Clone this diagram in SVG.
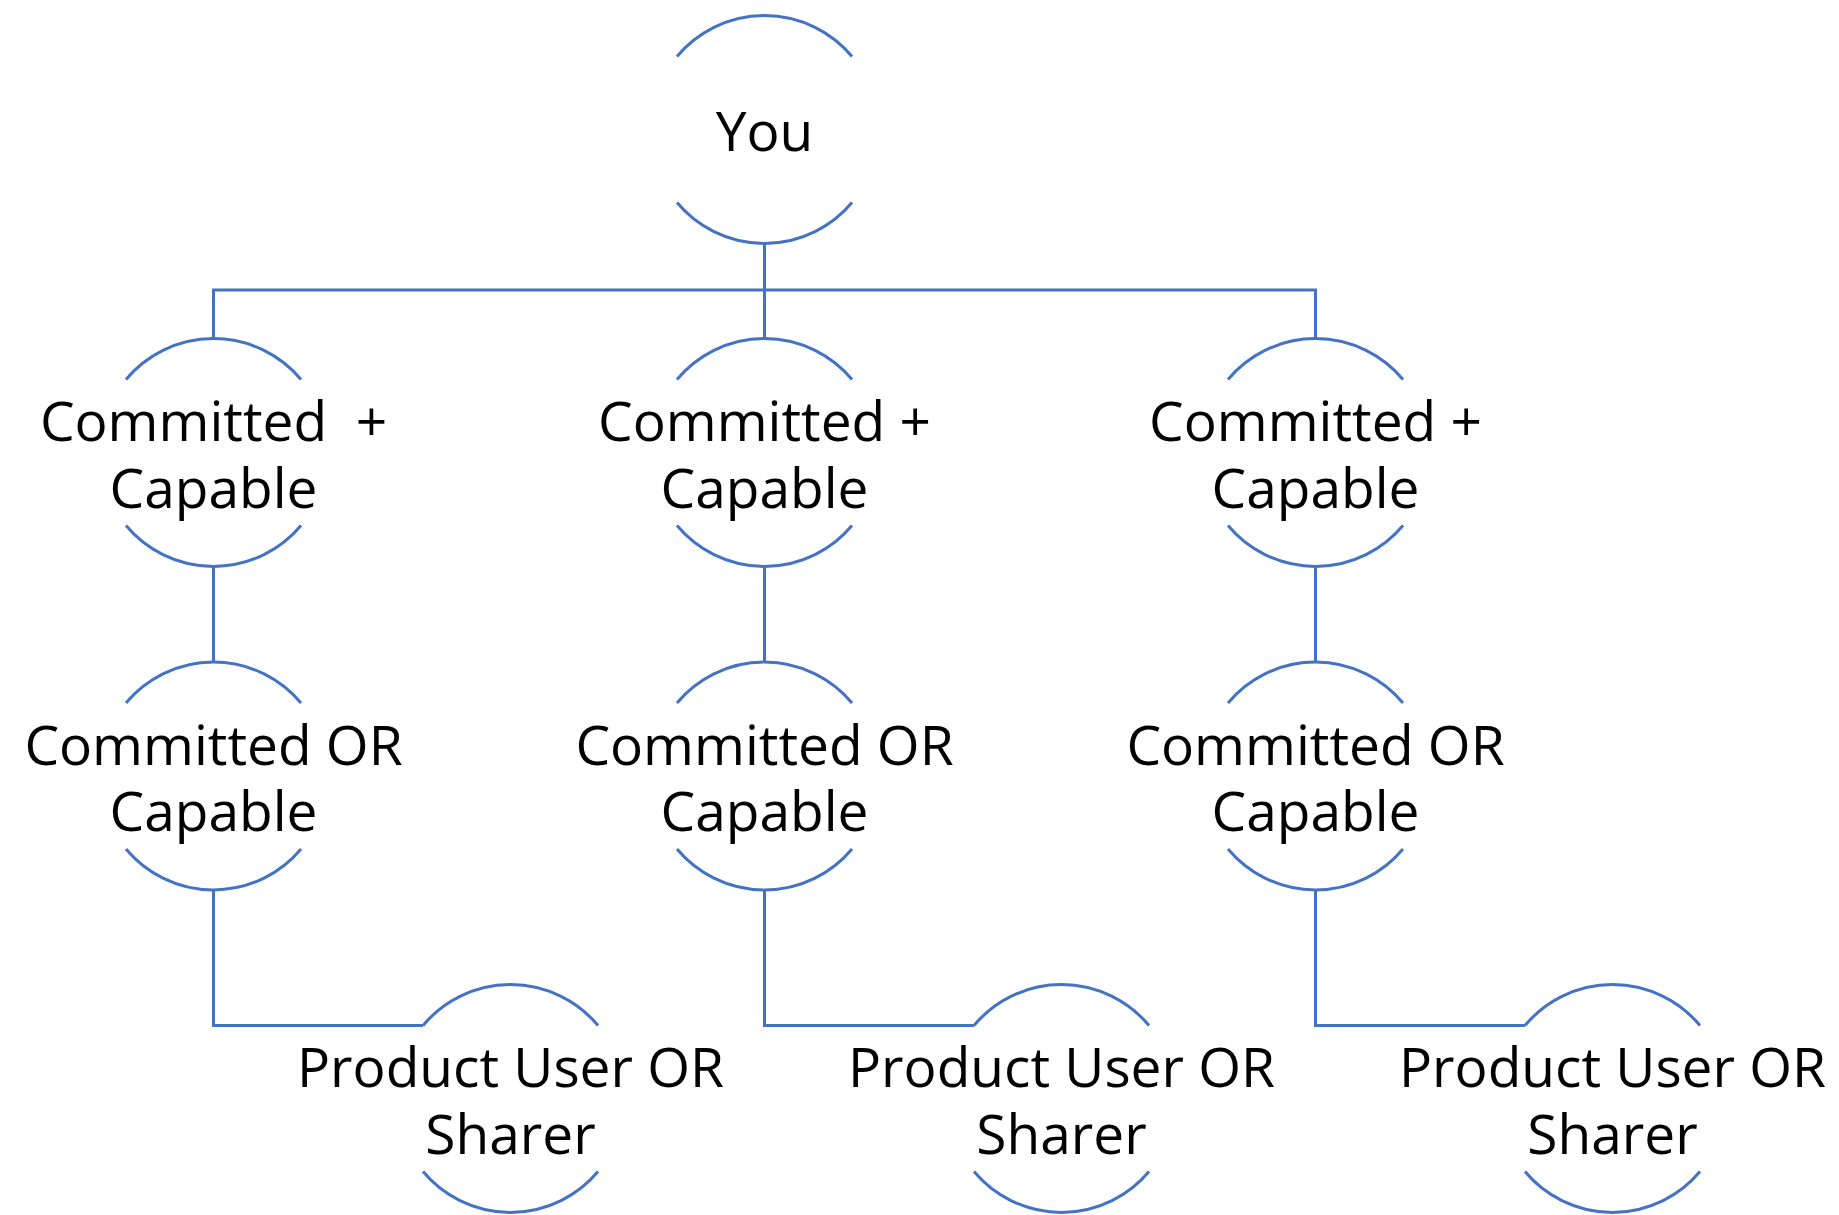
<svg xmlns="http://www.w3.org/2000/svg" width="1839" height="1215" viewBox="0 0 1839 1215">
<style>
.arc{fill:none;stroke:#4472C4;stroke-width:3}
.con{fill:none;stroke:#4472C4;stroke-width:3}
.lbl{font-family:"Open Sans","Noto Sans","Liberation Sans",sans-serif;font-size:55px;fill:#000;text-anchor:middle;white-space:pre}
</style>
<rect width="1839" height="1215" fill="#fff"/>
<g id="connectors">
<path class="con" d="M764.5,243.5 V339"/>
<path class="con" d="M213.5,339 V290 H1315.5 V339"/>
<path class="con" d="M213.5,566.5 V662"/>
<path class="con" d="M764.5,566.5 V662"/>
<path class="con" d="M1315.5,566.5 V662"/>
<path class="con" d="M213.5,890 V1025.5 H423"/>
<path class="con" d="M764.5,890 V1025.5 H974"/>
<path class="con" d="M1315.5,890 V1025.5 H1525"/>
</g>
<g id="you">
<path class="arc" d="M677,56.5 A114,114 0 0 1 852,56.5"/>
<path class="arc" d="M677,202.5 A114,114 0 0 0 852,202.5"/>
<text class="lbl" x="764.5" y="151">You</text>
</g>
<g id="cc1">
<path class="arc" d="M126,379.5 A114,114 0 0 1 301,379.5"/>
<path class="arc" d="M126,525.5 A114,114 0 0 0 301,525.5"/>
<text class="lbl" x="213.5" y="441" xml:space="preserve">Committed  +</text>
<text class="lbl" x="213.5" y="507.5">Capable</text>
</g>
<g id="cc2">
<path class="arc" d="M677,379.5 A114,114 0 0 1 852,379.5"/>
<path class="arc" d="M677,525.5 A114,114 0 0 0 852,525.5"/>
<text class="lbl" x="764.5" y="441">Committed +</text>
<text class="lbl" x="764.5" y="507.5">Capable</text>
</g>
<g id="cc3">
<path class="arc" d="M1228,379.5 A114,114 0 0 1 1403,379.5"/>
<path class="arc" d="M1228,525.5 A114,114 0 0 0 1403,525.5"/>
<text class="lbl" x="1315.5" y="441">Committed +</text>
<text class="lbl" x="1315.5" y="507.5">Capable</text>
</g>
<g id="cor1">
<path class="arc" d="M126,703 A114,114 0 0 1 301,703"/>
<path class="arc" d="M126,849 A114,114 0 0 0 301,849"/>
<text class="lbl" x="213.5" y="764.5">Committed OR</text>
<text class="lbl" x="213.5" y="831">Capable</text>
</g>
<g id="cor2">
<path class="arc" d="M677,703 A114,114 0 0 1 852,703"/>
<path class="arc" d="M677,849 A114,114 0 0 0 852,849"/>
<text class="lbl" x="764.5" y="764.5">Committed OR</text>
<text class="lbl" x="764.5" y="831">Capable</text>
</g>
<g id="cor3">
<path class="arc" d="M1228,703 A114,114 0 0 1 1403,703"/>
<path class="arc" d="M1228,849 A114,114 0 0 0 1403,849"/>
<text class="lbl" x="1315.5" y="764.5">Committed OR</text>
<text class="lbl" x="1315.5" y="831">Capable</text>
</g>
<g id="pus1">
<path class="arc" d="M423,1025.5 A114,114 0 0 1 598,1025.5"/>
<path class="arc" d="M423,1171.5 A114,114 0 0 0 598,1171.5"/>
<text class="lbl" x="510.5" y="1087">Product User OR</text>
<text class="lbl" x="510.5" y="1153.5">Sharer</text>
</g>
<g id="pus2">
<path class="arc" d="M974,1025.5 A114,114 0 0 1 1149,1025.5"/>
<path class="arc" d="M974,1171.5 A114,114 0 0 0 1149,1171.5"/>
<text class="lbl" x="1061.5" y="1087">Product User OR</text>
<text class="lbl" x="1061.5" y="1153.5">Sharer</text>
</g>
<g id="pus3">
<path class="arc" d="M1525,1025.5 A114,114 0 0 1 1700,1025.5"/>
<path class="arc" d="M1525,1171.5 A114,114 0 0 0 1700,1171.5"/>
<text class="lbl" x="1612.5" y="1087">Product User OR</text>
<text class="lbl" x="1612.5" y="1153.5">Sharer</text>
</g>
</svg>
